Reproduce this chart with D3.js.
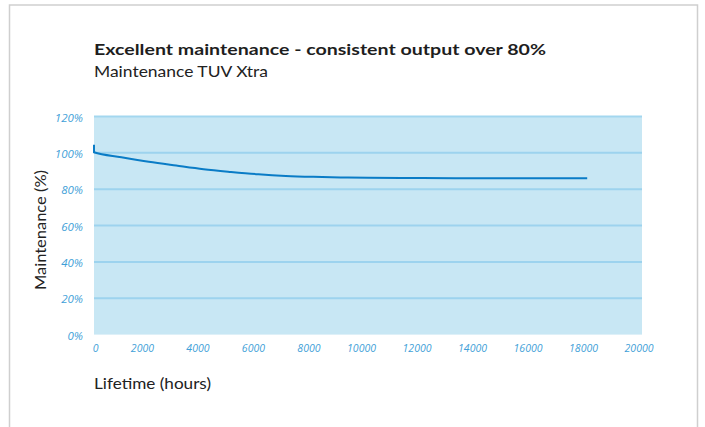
<!DOCTYPE html>
<html lang="en">
<head>
<meta charset="utf-8">
<title>Maintenance TUV Xtra</title>
<script src="https://cdn.jsdelivr.net/npm/d3@7"></script>
<style type="text/css">
body {
	margin: 0;
	background: #fff;
	font-family: Lato, sans-serif;
}
</style>
</head>
<body>
<div id="vis"></div>
<script>

/* Data */
/* ==== */

var hours = [0, 0, 1000, 2000, 3000, 4000, 5000, 6000, 7000, 8000, 9000, 10000, 12000, 14000, 16000, 18000];
var maintenance = [104.4, 100.3, 97.6, 95.1, 93.0, 91.0, 89.5, 88.2, 87.3, 86.8, 86.5, 86.3, 86.1, 86.0, 86.0, 86.0];

var yTicks = [0, 20, 40, 60, 80, 100, 120];
var xTicks = [0, 2000, 4000, 6000, 8000, 10000, 12000, 14000, 16000, 18000, 20000];

var title = 'Excellent maintenance - consistent output over 80%';
var subtitle = 'Maintenance TUV Xtra';
var xTitle = 'Lifetime (hours)';
var yTitle = 'Maintenance (%)';


/* Globals and SVG */
/* =============== */

var width = 705,
		height = 427;

var plot = { left: 94, right: 642, top: 116.5, bottom: 334.6 };

var svg = d3.select('#vis')
	.append('svg')
		.attr('width', width)
		.attr('height', height);

var x = d3.scaleLinear().domain([0, 20000]).range([plot.left, plot.right]);
var xLabel = d3.scaleLinear().domain([0, 20000]).range([98.5, 653.5]);
var y = d3.scaleLinear().domain([0, 120]).range([plot.bottom, plot.top]);


/* Frame */
/* ===== */

svg.append('rect')
	.attr('x', 9.5)
	.attr('y', 5)
	.attr('width', 688)
	.attr('height', 440)
	.attr('fill', 'none')
	.attr('stroke', '#cfcfcf')
	.attr('stroke-width', 1.5);


/* Titles */
/* ====== */

svg.append('text')
	.attr('x', 94).attr('y', 55)
	.attr('font-size', 15.5)
	.attr('font-weight', 'bold')
	.attr('fill', '#1e1e1e')
	.attr('textLength', 452)
	.attr('lengthAdjust', 'spacingAndGlyphs')
	.text(title);

svg.append('text')
	.attr('x', 94).attr('y', 77)
	.attr('font-size', 15)
	.attr('fill', '#222')
	.attr('textLength', 174)
	.attr('lengthAdjust', 'spacingAndGlyphs')
	.text(subtitle);

svg.append('text')
	.attr('x', 94).attr('y', 389)
	.attr('font-size', 16)
	.attr('fill', '#222')
	.attr('textLength', 117)
	.attr('lengthAdjust', 'spacingAndGlyphs')
	.text(xTitle);

svg.append('text')
	.attr('transform', 'translate(46, 230) rotate(-90)')
	.attr('text-anchor', 'middle')
	.attr('font-size', 16)
	.attr('fill', '#222')
	.attr('textLength', 120)
	.attr('lengthAdjust', 'spacingAndGlyphs')
	.text(yTitle);


/* Plot area */
/* ========= */

svg.append('rect')
	.attr('x', x(0))
	.attr('y', y(120))
	.attr('width', x(20000) - x(0))
	.attr('height', y(0) - y(120))
	.attr('fill', '#c8e7f4');

svg.selectAll('.grid')
	.data(yTicks.filter(function(d) { return d > 0; }))
	.enter().append('line')
		.attr('class', 'grid')
		.attr('x1', x(0))
		.attr('x2', x(20000))
		.attr('y1', function(d) { return y(d); })
		.attr('y2', function(d) { return y(d); })
		.attr('stroke', function(d) { return d === 120 ? '#a3d7ef' : '#9dd3ee'; })
		.attr('stroke-width', 2);

// tick labels
svg.selectAll('.ylab')
	.data(yTicks)
	.enter().append('text')
		.attr('class', 'ylab')
		.attr('x', 83)
		.attr('y', function(d) { return y(d) + 1; })
		.attr('dy', '0.35em')
		.attr('text-anchor', 'end')
		.attr('font-family', '"Open Sans", sans-serif')
		.attr('font-style', 'italic')
		.attr('font-size', 11.5)
		.attr('fill', '#3f9fd8')
		.text(function(d) { return d + '%'; });

svg.selectAll('.xlab')
	.data(xTicks)
	.enter().append('text')
		.attr('class', 'xlab')
		.attr('x', function(d) { return xLabel(d); })
		.attr('y', 348)
		.attr('dy', '0.35em')
		.attr('text-anchor', 'end')
		.attr('font-family', '"Open Sans", sans-serif')
		.attr('font-style', 'italic')
		.attr('font-size', 10.5)
		.attr('fill', '#3f9fd8')
		.text(function(d) { return d; });


/* Line */
/* ==== */

var line = d3.line()
	.x(function(d, i) { return x(hours[i]); })
	.y(function(d) { return y(d); })
	.curve(d3.curveMonotoneX);

svg.append('path')
	.datum(maintenance)
	.attr('d', line)
	.attr('fill', 'none')
	.attr('stroke', '#0a7cc6')
	.attr('stroke-width', 2);

</script>
</body>
</html>
